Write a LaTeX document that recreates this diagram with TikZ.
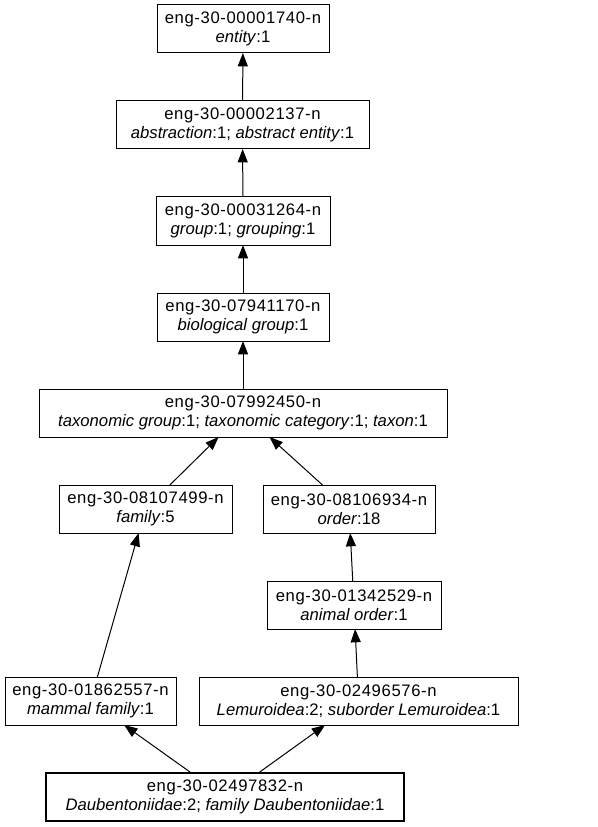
\documentclass[tikz,border=0pt]{standalone}
\usepackage{fontspec}
\setmainfont{Liberation Sans}
\usepackage{tikz}
\usetikzlibrary{arrows.meta}
\newcommand{\synid}[1]{{\addfontfeatures{LetterSpace=3.7}#1}}
\tikzset{
    synset/.style={draw, minimum height=36pt, align=center,
    font=\fontsize{12.5pt}{14.25pt}\selectfont, inner sep=2pt, outer sep=0pt,
    line width=0.75pt},
    query/.style={synset, line width=1.6pt},
    isa/.style={-{Triangle[length=10pt,width=7.5pt]}, line width=0.75pt},
}

\begin{document}
\begin{tikzpicture}[x=0.75pt, y=-0.75pt]
            \useasboundingbox (0,0) rectangle (597,827);
            % --- upper chain ---
            \node[synset, minimum width=129pt] (entity) at (243,29) {\synid{eng-30-00001740-n}\\\textit{entity}:1};
            \node[synset, minimum width=189.75pt] (abstraction) at (242.5,125) {\synid{eng-30-00002137-n}\\\textit{abstraction}:1; \textit{abstract entity}:1};
            \node[synset, minimum width=130.5pt] (group) at (243,221) {\synid{eng-30-00031264-n}\\\textit{group}:1; \textit{grouping}:1};
            \node[synset, minimum width=129pt] (biogroup) at (243,317) {\synid{eng-30-07941170-n}\\\textit{biological group}:1};
            \node[synset, minimum width=306pt] (taxon) at (243,413) {\synid{eng-30-07992450-n}\\\textit{taxonomic group}:1; \textit{taxonomic category}:1; \textit{taxon}:1};
            % --- two branches ---
            \node[synset, minimum width=129.75pt] (family) at (145.5,509) {\synid{eng-30-08107499-n}\\\textit{family}:5};
            \node[synset, minimum width=129pt] (order) at (349,509) {\synid{eng-30-08106934-n}\\\textit{order}:18};
            \node[synset, minimum width=130.5pt] (animalorder) at (354,605) {\synid{eng-30-01342529-n}\\\textit{animal order}:1};
            \node[synset, minimum width=128.25pt] (mammalfamily) at (90.5,701) {\synid{eng-30-01862557-n}\\\textit{mammal family}:1};
            \node[synset, minimum width=239.25pt] (lemuroidea) at (358.5,701) {\synid{eng-30-02496576-n}\\\textit{Lemuroidea}:2; \textit{suborder Lemuroidea}:1};
            % --- query synset ---
            \node[query, minimum width=268.5pt] (daubentoniidae) at (225,797) {\synid{eng-30-02497832-n}\\\textit{Daubentoniidae}:2; \textit{family Daubentoniidae}:1};
            % --- hypernym links ---
            \draw[isa] (abstraction) -- (entity);
            \draw[isa] (group) -- (abstraction);
            \draw[isa] (biogroup) -- (group);
            \draw[isa] (taxon) -- (biogroup);
            \draw[isa] (family) -- (taxon);
            \draw[isa] (order) -- (taxon);
            \draw[isa] (animalorder) -- (order);
            \draw[isa] (mammalfamily) -- (family);
            \draw[isa] (lemuroidea) -- (animalorder);
            \draw[isa] (daubentoniidae) -- (mammalfamily);
            \draw[isa] (daubentoniidae) -- (lemuroidea);
        \end{tikzpicture}
\end{document}
